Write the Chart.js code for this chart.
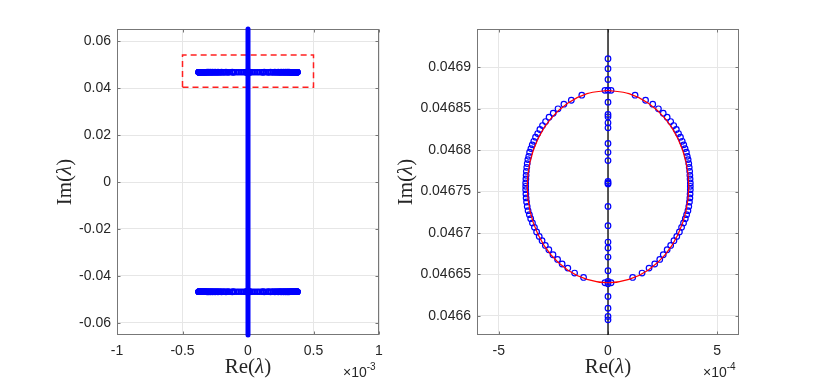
<!DOCTYPE html>
<html>
<head>
<meta charset="utf-8">
<script src="https://cdn.jsdelivr.net/npm/chart.js@4.4.1/dist/chart.umd.min.js"></script>
<style>
  body { margin: 0; background: #fff; width: 817px; height: 382px; position: relative; overflow: hidden; }
  canvas { position: absolute; top: 0; }
  #full { left: 0; }
  #zoom { left: 380px; }
</style>
</head>
<body>
<canvas id="full" width="390" height="382"></canvas>
<canvas id="zoom" width="437" height="382"></canvas>
<script>
// eigenvalues near the ring, x in units of 1e-4
const upperY = [0.0468662, 0.0468601, 0.0468553, 0.0468498, 0.0468444, 0.0468396, 0.0468344, 0.0468296,
  0.0468248, 0.0468199, 0.0468155, 0.0468106, 0.0468063, 0.0468018, 0.0467974, 0.0467925,
  0.0467885, 0.0467837, 0.0467792, 0.0467744, 0.0467696, 0.0467652, 0.0467604, 0.0467563];
const upperLeftX = [-1.2, -1.68, -2.02, -2.29, -2.51, -2.70, -2.86, -3.00, -3.12, -3.22, -3.32, -3.40,
  -3.47, -3.53, -3.59, -3.63, -3.67, -3.70, -3.72, -3.74, -3.75, -3.76, -3.77, -3.77];
const upperRightX = [1.24, 1.72, 2.05, 2.31, 2.53, 2.71, 2.87, 3.01, 3.13, 3.23, 3.32, 3.40,
  3.47, 3.53, 3.59, 3.63, 3.67, 3.70, 3.72, 3.74, 3.75, 3.76, 3.77, 3.77];
const lowerY = [0.0467523, 0.0467471, 0.0467423, 0.0467374, 0.0467321, 0.0467269, 0.0467221, 0.0467173,
  0.0467121, 0.0467068, 0.0467012, 0.0466959, 0.0466907, 0.046685, 0.0466798, 0.0466738,
  0.0466681, 0.0466626, 0.0466577, 0.0466517, 0.0466464];
const lowerLeftX = [-3.77, -3.76, -3.75, -3.73, -3.70, -3.66, -3.60, -3.54, -3.46, -3.37, -3.27, -3.15,
  -3.02, -2.87, -2.71, -2.52, -2.31, -2.10, -1.84, -1.53, -1.12];
const lowerRightX = [3.77, 3.76, 3.75, 3.73, 3.70, 3.66, 3.60, 3.54, 3.46, 3.37, 3.27, 3.15,
  3.02, 2.87, 2.71, 2.53, 2.37, 2.14, 1.88, 1.56, 1.13];
const clusterX = [-0.14, 0.14, -0.14, 0.14];
const clusterY = [0.046872, 0.046872, 0.046640, 0.046640];
// eigenvalues on the imaginary axis (x = 0)
const axisY = [0.0469101, 0.0468981, 0.0468851, 0.0468722, 0.0468577, 0.0468429, 0.0468401, 0.0468329,
  0.0468268, 0.0468079, 0.0467973, 0.0467873, 0.0467623, 0.0467604, 0.0467592, 0.0467321,
  0.0467088, 0.0466891, 0.0466819, 0.046671, 0.0466545, 0.0466415, 0.0466388, 0.0466234,
  0.0466094, 0.0465993, 0.0465953];
// red reference curve
const curveX = [0, -0.96, -1.85, -2.62, -3.20, -3.57, -3.70, -3.57, -3.20, -2.62, -1.85, -0.96, 0,
  0.96, 1.85, 2.62, 3.20, 3.57, 3.70, 3.57, 3.20, 2.62, 1.85, 0.96, 0];
const curveY = [0.046872, 0.046868, 0.0468565, 0.046838, 0.046814, 0.046786, 0.046756, 0.046726,
  0.046698, 0.046674, 0.0466555, 0.046644, 0.04664, 0.046644, 0.0466555, 0.046674, 0.046698,
  0.046726, 0.046756, 0.046786, 0.046814, 0.046838, 0.0468565, 0.046868, 0.046872];

// full spectrum (left), x in units of 1e-3
const spectrumY = [-0.0652, 0.0652];
const bandY = 0.0468;
const bandX = [-0.37, -0.36, -0.35, -0.34, -0.33, -0.32, -0.31, -0.30, -0.29, -0.28, -0.27, -0.26,
  -0.25, -0.24, -0.23, -0.22, -0.205, -0.19, -0.172, -0.155, -0.138, -0.12, -0.103, -0.086,
  -0.07, -0.053, -0.036, -0.02,
  0.02, 0.036, 0.053, 0.07, 0.086, 0.103, 0.12, 0.138, 0.155, 0.172, 0.19, 0.205,
  0.22, 0.23, 0.24, 0.25, 0.26, 0.27, 0.28, 0.29, 0.30, 0.31, 0.32, 0.33, 0.34, 0.35, 0.36, 0.37];
const boxX = [-0.5, 0.5, 0.5, -0.5, -0.5];
const boxY = [0.0404, 0.0404, 0.0541, 0.0541, 0.0404];

const fullXTicks = [-1, -0.5, 0, 0.5, 1];
const fullYTicks = [-0.06, -0.04, -0.02, 0, 0.02, 0.04, 0.06];
const zoomXTicks = [-5, 0, 5];
const zoomYTicks = [0.0466, 0.04665, 0.0467, 0.04675, 0.0468, 0.04685, 0.0469];
const fullRange = { x: [-1, 1], y: [-0.0652, 0.0652] };
const zoomRange = { x: [-6, 6], y: [0.046577, 0.046946] };

const ring = [];
upperY.forEach((y, i) => { ring.push({ x: upperLeftX[i], y }); ring.push({ x: upperRightX[i], y }); });
lowerY.forEach((y, i) => { ring.push({ x: lowerLeftX[i], y }); ring.push({ x: lowerRightX[i], y }); });
clusterX.forEach((x, i) => ring.push({ x, y: clusterY[i] }));
axisY.forEach(y => ring.push({ x: 0, y }));

const bandTop = ring.map(p => ({ x: p.x / 10, y: p.y })).concat(bandX.map(x => ({ x, y: bandY })));
const bandBottom = bandTop.map(p => ({ x: p.x, y: -p.y }));

const BLUE = '#0000ff';
const TXT = '#262626';
const sans = '"Liberation Sans", Arial, sans-serif';

function mathLabel(ctx, name, x, y) {
  const parts = [[name + '(', 'normal'], ['λ', 'italic'], [')', 'normal']];
  const fonts = parts.map(p => p[1] + ' 21px "Liberation Serif", serif');
  let w = 0;
  const ws = parts.map((p, i) => { ctx.font = fonts[i]; const m = ctx.measureText(p[0]).width; w += m; return m; });
  let cx = x - w / 2;
  ctx.textAlign = 'left';
  parts.forEach((p, i) => { ctx.font = fonts[i]; ctx.fillText(p[0], cx, y); cx += ws[i]; });
}

function decorate(cfg) {
  return {
    id: 'decorate',
    beforeDatasetsDraw(chart) {
      const { ctx, chartArea: a, scales: { x, y } } = chart;
      const L = Math.round(a.left) + 0.5, R = Math.round(a.right) - 0.5;
      const T = Math.round(a.top) + 0.5, B = Math.round(a.bottom) - 0.5;
      ctx.save();
      ctx.strokeStyle = '#777';
      ctx.lineWidth = 1;
      ctx.beginPath();
      x.ticks.forEach(t => {
        const p = Math.round(x.getPixelForValue(t.value)) + 0.5;
        ctx.moveTo(p, B); ctx.lineTo(p, B - 3);
        ctx.moveTo(p, T); ctx.lineTo(p, T + 3);
      });
      y.ticks.forEach(t => {
        const p = Math.round(y.getPixelForValue(t.value)) + 0.5;
        ctx.moveTo(L, p); ctx.lineTo(L + 3, p);
        ctx.moveTo(R, p); ctx.lineTo(R - 3, p);
      });
      ctx.stroke();
      ctx.strokeRect(L, T, R - L, B - T);
      ctx.restore();
    },
    afterDraw(chart) {
      const { ctx, chartArea: a } = chart;
      ctx.save();
      ctx.fillStyle = TXT;
      ctx.textBaseline = 'alphabetic';
      mathLabel(ctx, 'Re', (a.left + a.right) / 2, 373);
      ctx.save();
      ctx.translate(cfg.imX, (a.top + a.bottom) / 2);
      ctx.rotate(-Math.PI / 2);
      ctx.textBaseline = 'middle';
      mathLabel(ctx, 'Im', 0, 0);
      ctx.restore();
      ctx.font = '14px ' + sans;
      ctx.textAlign = 'left';
      ctx.fillText('×10', cfg.expX, 377);
      const w = ctx.measureText('×10').width;
      ctx.font = '10px ' + sans;
      ctx.fillText(cfg.expo, cfg.expX + w, 370);
      ctx.restore();
    }
  };
}

function axes(range, xTicks, yTicks, yWidth) {
  const tickFont = { family: sans, size: 14 };
  return {
    x: {
      type: 'linear', min: range.x[0], max: range.x[1],
      afterBuildTicks: s => { s.ticks = xTicks.map(v => ({ value: v })); },
      afterFit: s => { s.height = 47; s.paddingLeft = 0; s.paddingRight = 0; },
      grid: { color: '#e6e6e6', drawTicks: false },
      border: { display: false },
      ticks: { padding: 8, font: tickFont, color: TXT, autoSkip: false, maxRotation: 0, callback: v => String(v) }
    },
    y: {
      type: 'linear', min: range.y[0], max: range.y[1],
      afterBuildTicks: s => { s.ticks = yTicks.map(v => ({ value: v })); },
      afterFit: s => { s.width = yWidth; s.paddingTop = 0; s.paddingBottom = 0; },
      grid: { color: '#e6e6e6', drawTicks: false },
      border: { display: false },
      ticks: { padding: 6, font: tickFont, color: TXT, autoSkip: false, callback: v => String(v) }
    }
  };
}

const common = {
  responsive: false, animation: false, devicePixelRatio: 1,
  plugins: { legend: { display: false }, tooltip: { enabled: false } },
  events: []
};

new Chart(document.getElementById('full'), {
  type: 'scatter',
  data: {
    datasets: [
      {
        data: boxX.map((x, i) => ({ x, y: boxY[i] })), showLine: true, pointRadius: 0,
        borderColor: '#ff2020', borderWidth: 1.5, borderDash: [6, 4], order: 3
      },
      {
        data: bandTop.concat(bandBottom), pointRadius: 2.5, pointBorderWidth: 1.5,
        pointBorderColor: BLUE, pointBackgroundColor: 'rgba(0,0,0,0)', order: 2
      },
      {
        data: spectrumY.map(y => ({ x: 0, y })), showLine: true, pointRadius: 0,
        borderColor: BLUE, borderWidth: 5, borderCapStyle: 'round', clip: false, order: 1
      }
    ]
  },
  options: Object.assign({}, common, {
    layout: { padding: { left: 0, right: 11, top: 29, bottom: 0 } },
    scales: axes(fullRange, fullXTicks, fullYTicks, 117)
  }),
  plugins: [decorate({ imX: 65, expX: 343, expo: '-3' })]
});

new Chart(document.getElementById('zoom'), {
  type: 'scatter',
  data: {
    datasets: [
      {
        data: zoomRange.y.map(y => ({ x: 0, y })), showLine: true, pointRadius: 0,
        borderColor: '#000', borderWidth: 1.3, order: 3
      },
      {
        data: ring, pointRadius: 2.8, pointBorderWidth: 1.2,
        pointBorderColor: BLUE, pointBackgroundColor: 'rgba(0,0,0,0)', order: 2
      },
      {
        data: curveX.map((x, i) => ({ x, y: curveY[i] })), showLine: true, pointRadius: 0,
        borderColor: '#ff0000', borderWidth: 1.2, tension: 0.34, order: 1
      }
    ]
  },
  options: Object.assign({}, common, {
    layout: { padding: { left: 0, right: 78, top: 29, bottom: 0 } },
    scales: axes(zoomRange, zoomXTicks, zoomYTicks, 97)
  }),
  plugins: [decorate({ imX: 26, expX: 323, expo: '-4' })]
});
</script>
</body>
</html>
